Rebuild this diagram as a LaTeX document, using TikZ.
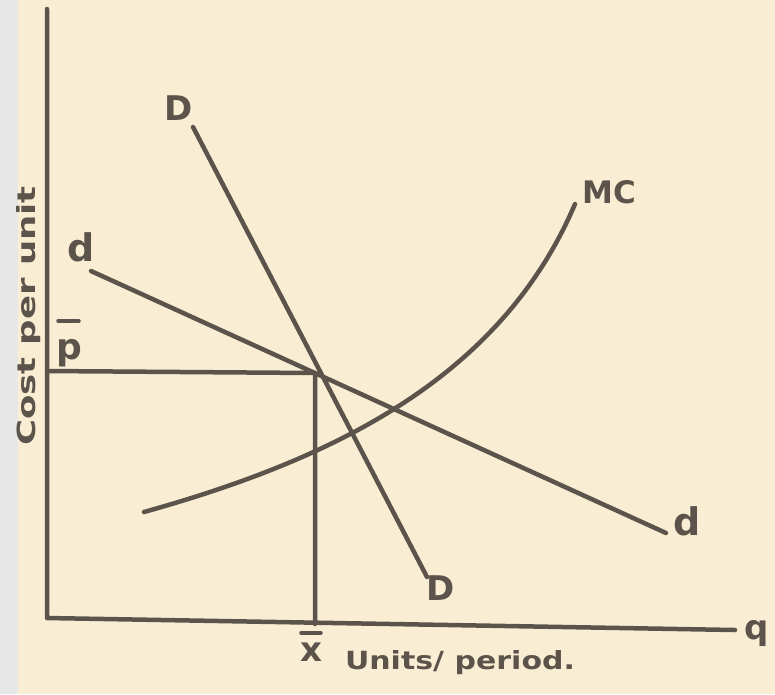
\documentclass[tikz,border=0pt]{standalone}
\usepackage{fontspec}
\setmainfont{DejaVu Sans}
\begin{document}
\begin{tikzpicture}[x=1pt,y=-1pt,
  ink/.style={draw=inkc,line width=4.5pt,line cap=round,line join=round},
  bar/.style={draw=inkc,line width=3.5pt,line cap=round},
  lbl/.style={text=inkc,font=\fontsize{34}{38}\selectfont\bfseries,inner sep=0pt},
  small/.style={text=inkc,font=\fontsize{25}{28}\selectfont\bfseries,inner sep=0pt}]
\definecolor{inkc}{HTML}{5C534B}
\definecolor{paper}{HTML}{F9EED4}
\definecolor{strip}{HTML}{E7E7E8}
\useasboundingbox (0,0) rectangle (775,694);
\fill[paper] (0,0) rectangle (775,694);
\fill[strip] (0,0) rectangle (18,694);
% coordinates
\coordinate (ytop) at (47,9);
\coordinate (orig) at (47,618);
\coordinate (xend) at (735,630);
\coordinate (pA) at (47,371);
\coordinate (E) at (315,373);
\coordinate (xb) at (315,624);
\coordinate (D1) at (193,127);
\coordinate (D2) at (427,577);
\coordinate (d1) at (91,271);
\coordinate (d2) at (666,533);
\coordinate (mc1) at (144,512);
\coordinate (mc2) at (575,204);
% axes
\draw[ink] (ytop) -- (orig) -- (xend);
% guide lines
\draw[ink] (pA) -- (E) -- (xb);
% demand curves
\draw[ink] (D1) -- (D2);
\draw[ink] (d1) -- (d2);
% MC
\draw[ink] (mc1) .. controls (330,460) and (500,380) .. (mc2);
% labels
\node[lbl] (Dt) at (179,108) {D};
\node[lbl,font=\fontsize{38}{40}\selectfont\bfseries] (dl) at (81,247) {d};
\node[lbl,font=\fontsize{36}{38}\selectfont\bfseries] (pb) at (69,353) {p};
\draw[bar] ([xshift=-11pt,yshift=32pt]pb.center) -- ([xshift=10pt,yshift=32pt]pb.center);
\node[lbl,font=\fontsize{31}{34}\selectfont\bfseries] (MC) at (609,192) {MC};
\node[lbl,font=\fontsize{38}{40}\selectfont\bfseries] (dr) at (687,521) {d};
\node[lbl] (Db) at (441,588) {D};
\node[lbl] (q) at (757,634) {q};
\node[lbl,font=\fontsize{34}{36}\selectfont\bfseries] (xbl) at (311,652) {x};
\draw[bar] ([xshift=-10pt,yshift=19pt]xbl.center) -- ([xshift=10pt,yshift=19pt]xbl.center);
\node[small] (units) at (460,663) {\scalebox{1.2}[1]{Units/ period.}};
\node[small,rotate=90] (cost) at (29,316) {\scalebox{1.42}[1]{Cost per unit}};
\end{tikzpicture}
\end{document}
